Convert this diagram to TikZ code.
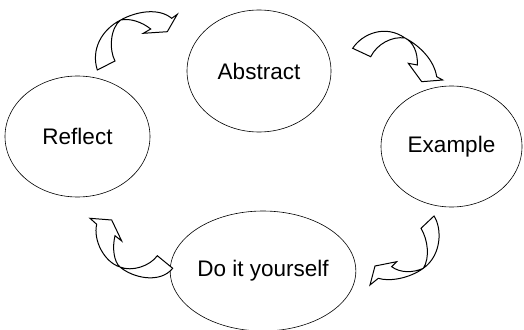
\documentclass[tikz,border=0pt]{standalone}
\usepackage{fontspec}
\setmainfont{Liberation Sans}
\usetikzlibrary{shapes.geometric}

\begin{document}
\begin{tikzpicture}[x=1pt,y=-1pt]
\tikzstyle{every node}=[ellipse, draw, line width=0.6pt, inner sep=0pt, font=\fontsize{22.5}{27}\selectfont]
\tikzstyle{bentarrow}=[draw, line width=1pt, line join=miter, fill=white]
\useasboundingbox (0,0) rectangle (524,329);
\draw (259,71) node (abstract) [minimum width=144pt, minimum height=122pt] {Abstract};
\draw (77.5,136.5) node (reflect) [minimum width=145pt, minimum height=121pt] {Reflect};
\draw (451.5,146.5) node (example) [minimum width=141pt, minimum height=121pt] {Example};
\draw (263,271) node (doit) [minimum width=142pt, minimum height=120pt] {Do it yourself};
% reflect -> abstract
\draw[bentarrow] (97.3,70) .. controls (91,50) and (101,30) .. (120.7,20)
  .. controls (135,12) and (158,7) .. (171.7,18.3)
  -- (177.3,14.3) -- (167.3,31.7) -- (143.3,33.3) -- (150.7,29)
  .. controls (142,22) and (130,18) .. (120.7,20)
  .. controls (110,28) and (109,50) .. (115,61) -- cycle;
% abstract -> example
\draw[bentarrow] (352.7,48.3) .. controls (362,34) and (385,24) .. (405,38)
  .. controls (420,46) and (434,60) .. (436.7,76.7)
  -- (442.7,80) -- (421.7,81.7) -- (408.3,63.3) -- (417.3,65)
  .. controls (418,52) and (413,42) .. (405,38)
  .. controls (392,36) and (377,44) .. (370.7,56.7) -- cycle;
% example -> doit
\draw[bentarrow] (434,216) .. controls (442,228) and (442,255) .. (423.3,268.3)
  .. controls (410,278) and (390,282) .. (378.3,278.3)
  -- (370,285) -- (375,266) -- (396.7,261.7) -- (391.7,266.7)
  .. controls (400,273) and (413,273) .. (423.3,268.3)
  .. controls (430,258) and (428,240) .. (421,228.3) -- cycle;
% doit -> reflect
\draw[bentarrow] (172.7,268.3) .. controls (160,284) and (133,278) .. (120,267)
  .. controls (104,262) and (93,240) .. (96.7,224.3)
  -- (90,218.3) -- (111.7,220) -- (121.7,241) -- (115,235.7)
  .. controls (112,248) and (114,262) .. (120,267)
  .. controls (132,272) and (150,266) .. (157.3,255.7) -- cycle;
\end{tikzpicture}
\end{document}
